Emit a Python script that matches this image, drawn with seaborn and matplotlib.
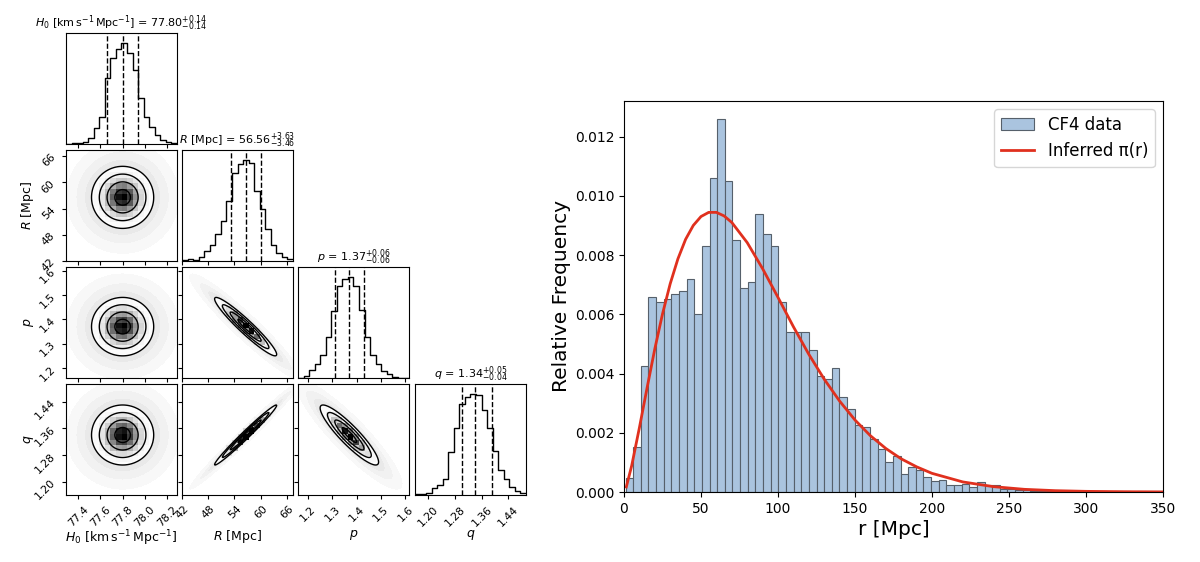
import numpy as np
import pandas as pd
import matplotlib
matplotlib.use("Agg")
import matplotlib.pyplot as plt
from matplotlib.colors import LinearSegmentedColormap
from matplotlib.patches import Patch
from matplotlib.lines import Line2D
import seaborn as sns

# ---------------- right panel: CF4 distances ----------------
cf4_bin_start = 1.0
cf4_bin_width = 4.96
cf4_density = [0.00047, 0.00152, 0.00427, 0.0066, 0.0064, 0.0065, 0.0067, 0.0068, 0.0072, 0.0060,
               0.0083, 0.0106, 0.0126, 0.0105, 0.0085, 0.0069, 0.0071, 0.0094, 0.0087, 0.0083,
               0.0064, 0.0054, 0.0054, 0.0054, 0.0048, 0.0039, 0.0038, 0.0042, 0.0032, 0.0028,
               0.00225, 0.0022, 0.0018, 0.00145, 0.0010, 0.0012, 0.0006, 0.00086, 0.00073, 0.00049,
               0.00036, 0.0004, 0.00025, 0.00025, 0.00027, 0.00016, 0.00034, 0.00022, 0.00022, 0.00011,
               0.00009, 0.00008, 0.00006, 0.00005, 0.00004, 0.00003, 0.00003, 0.00002, 0.00002, 0.00002,
               0.00003, 0.00004, 0.00002, 0.00001, 0.00002, 0.00002, 0.00001, 0.00003, 0.00003, 0.00003]

# inferred pi(r)
r_model = [1.5, 5, 10, 15, 20, 25, 30, 35, 40, 45, 50, 55, 60, 65, 70, 80, 90, 100,
           110, 120, 130, 140, 150, 160, 170, 180, 190, 200, 220, 240, 260, 280, 300, 325, 350]
pi_model = [0.00017, 0.00089, 0.00217, 0.00352, 0.00483, 0.00601, 0.00703, 0.00787, 0.00853,
            0.00900, 0.00930, 0.00944, 0.00944, 0.00932, 0.00910, 0.00842, 0.00754, 0.00657,
            0.00558, 0.00465, 0.00381, 0.00307, 0.00243, 0.00190, 0.00147, 0.00112, 0.00085,
            0.00063, 0.00034, 0.00018, 0.00009, 0.000045, 0.000022, 0.000009, 0.000003]

r_ticks = [0, 50, 100, 150, 200, 250, 300, 350]
freq_ticks = [0.0, 0.002, 0.004, 0.006, 0.008, 0.010, 0.012]
freq_tick_labels = ["0.000", "0.002", "0.004", "0.006", "0.008", "0.010", "0.012"]

# ---------------- corner plot: posterior summary ----------------
param_labels = [r"$H_0$ [km$\,$s$^{-1}\,$Mpc$^{-1}$]", r"$R$ [Mpc]", r"$p$", r"$q$"]
param_median = [77.80, 56.56, 1.37, 1.34]
param_minus = [0.14, 3.46, 0.06, 0.04]
param_plus = [0.14, 3.63, 0.06, 0.05]
param_sigma = [0.14, 3.55, 0.06, 0.045]
param_lo = [77.29, 42.0, 1.159, 1.16]
param_hi = [78.29, 67.4, 1.615, 1.493]
param_ticks = [[77.4, 77.6, 77.8, 78.0, 78.2], [42, 48, 54, 60, 66],
               [1.2, 1.3, 1.4, 1.5, 1.6], [1.20, 1.28, 1.36, 1.44]]
param_tick_labels = [["77.4", "77.6", "77.8", "78.0", "78.2"], ["42", "48", "54", "60", "66"],
                     ["1.2", "1.3", "1.4", "1.5", "1.6"], ["1.20", "1.28", "1.36", "1.44"]]

# pairwise correlations (estimated from contour shapes)
corr_R_p = -0.95
corr_R_q = 0.985
corr_p_q = -0.90
pair_corr = {(0, 1): 0.0, (0, 2): 0.0, (0, 3): 0.0,
             (1, 2): corr_R_p, (1, 3): corr_R_q, (2, 3): corr_p_q}

# 1D marginals (20 bins, relative heights)
hist_H0 = [0.003, 0.008, 0.013, 0.02, 0.056, 0.16, 0.27, 0.65, 0.85, 0.94,
           1.0, 0.9, 0.73, 0.46, 0.27, 0.17, 0.09, 0.04, 0.016, 0.01]
hist_R = [0.01, 0.017, 0.01, 0.043, 0.10, 0.155, 0.264, 0.40, 0.59, 0.875,
          0.957, 1.0, 0.97, 0.69, 0.52, 0.32, 0.155, 0.083, 0.043, 0.017]
hist_p = [0.003, 0.017, 0.076, 0.136, 0.226, 0.41, 0.66, 0.91, 0.98, 1.0,
          0.91, 0.67, 0.41, 0.226, 0.136, 0.07, 0.037, 0.01, 0.003, 0.0]
hist_q = [0.01, 0.01, 0.023, 0.066, 0.10, 0.155, 0.43, 0.66, 0.90, 0.97,
          1.0, 0.99, 0.84, 0.66, 0.44, 0.25, 0.155, 0.083, 0.043, 0.023]
marginals = [hist_H0, hist_R, hist_p, hist_q]

W, H = 1200, 562
fig = plt.figure(figsize=(12, 5.62), dpi=100)


def px_axes(x0, y0, w, h):
    return fig.add_axes([x0 / W, 1 - (y0 + h) / H, w / W, h / H])


density_cmap = LinearSegmentedColormap.from_list("dens", [(1, 1, 1, 0), (0, 0, 0, 1)])
col_x = [66, 182, 298, 415]
row_y = [33, 150, 267, 384]
size = 111
tick_fs = 7.8

for i in range(4):
    for j in range(i + 1):
        ax = px_axes(col_x[j], row_y[i], size, size)
        lo_x, hi_x = param_lo[j], param_hi[j]
        if i == j:
            edges = np.linspace(lo_x, hi_x, 21)
            df = pd.DataFrame({"x": 0.5 * (edges[:-1] + edges[1:]), "w": marginals[i]})
            sns.histplot(data=df, x="x", weights="w", bins=list(edges), element="step",
                         fill=False, color="k", linewidth=1, ax=ax)
            ax.set_ylim(0, 1.1 * max(marginals[i]))
            med = param_median[i]
            for qv in (med - param_minus[i], med, med + param_plus[i]):
                ax.axvline(qv, color="k", ls="--", lw=1)
            ax.set_yticks([])
            ax.set_ylabel("")
            ttl = param_labels[i] + r" = $%.2f_{-%.2f}^{+%.2f}$" % (med, param_minus[i], param_plus[i])
            ax.set_title(ttl, fontsize=8, pad=3)
        else:
            lo_y, hi_y = param_lo[i], param_hi[i]
            mx, my = param_median[j], param_median[i]
            sx, sy = param_sigma[j], param_sigma[i]
            rho = pair_corr[(j, i)]
            X, Y = np.meshgrid(np.linspace(lo_x, hi_x, 300), np.linspace(lo_y, hi_y, 300))
            u, v = (X - mx) / sx, (Y - my) / sy
            d2 = (u * u - 2 * rho * u * v + v * v) / (1 - rho * rho)
            # faint haze standing in for the scattered samples
            ax.contourf(X, Y, d2, levels=[4, 6, 9, 13],
                        colors=["#e9e9e9", "#f1f1f1", "#f8f8f8"])
            ax.contourf(X, Y, d2, levels=[0, 4], colors=["white"])
            xe = np.linspace(lo_x, hi_x, 21)
            ye = np.linspace(lo_y, hi_y, 21)
            XC, YC = np.meshgrid(0.5 * (xe[:-1] + xe[1:]), 0.5 * (ye[:-1] + ye[1:]))
            uc, vc = (XC - mx) / sx, (YC - my) / sy
            dens = np.exp(-0.5 * (uc * uc - 2 * rho * uc * vc + vc * vc) / (1 - rho * rho))
            dens = (dens / dens.max()) ** 1.3
            ax.pcolormesh(xe, ye, dens, cmap=density_cmap, vmin=0, vmax=1)
            ax.contour(X, Y, d2, levels=[0.25, 1, 2.25, 4], colors="k", linewidths=1)
            ax.set_ylim(lo_y, hi_y)
            ax.set_yticks(param_ticks[i])
            if j == 0:
                ax.set_yticklabels(param_tick_labels[i], rotation=45, fontsize=tick_fs)
                ax.set_ylabel(param_labels[i], fontsize=9)
                ax.yaxis.set_label_coords(-0.27, 0.5)
            else:
                ax.set_yticklabels([])
        ax.set_xlim(lo_x, hi_x)
        ax.set_xticks(param_ticks[j])
        if i == 3:
            ax.set_xticklabels(param_tick_labels[j], rotation=45, fontsize=tick_fs)
            ax.set_xlabel(param_labels[j], fontsize=9)
            ax.xaxis.set_label_coords(0.5, -0.3)
        else:
            ax.set_xticklabels([])
            ax.set_xlabel("")
        ax.tick_params(length=3, width=0.8)

# ---------------- right panel ----------------
axr = px_axes(624, 101, 539, 391)
edges = cf4_bin_start + cf4_bin_width * np.arange(len(cf4_density) + 1)
cf4 = pd.DataFrame({"r": 0.5 * (edges[:-1] + edges[1:]), "dens": cf4_density})
bar_face = "#aac4df"
bar_edge = "#56606b"
sns.histplot(data=cf4, x="r", weights="dens", bins=list(edges), color=bar_face, alpha=1,
             edgecolor=bar_edge, linewidth=0.8, ax=axr)
line_col = "#e0301e"
sns.lineplot(x=r_model, y=pi_model, color=line_col, linewidth=2, ax=axr)
axr.set_xlim(0, 350)
axr.set_ylim(0, 0.0132)
axr.set_xticks(r_ticks)
axr.set_xticklabels([str(t) for t in r_ticks], fontsize=10)
axr.set_yticks(freq_ticks)
axr.set_yticklabels(freq_tick_labels, fontsize=10)
axr.set_xlabel("r [Mpc]", fontsize=14.5, labelpad=3)
axr.set_ylabel("Relative Frequency", fontsize=14.5, labelpad=3)
handles = [Patch(facecolor=bar_face, edgecolor=bar_edge, linewidth=0.8),
           Line2D([0], [0], color=line_col, lw=2)]
axr.legend(handles, ["CF4 data", "Inferred π(r)"], loc="upper right", fontsize=12)

fig.savefig("out.png", dpi=100)
